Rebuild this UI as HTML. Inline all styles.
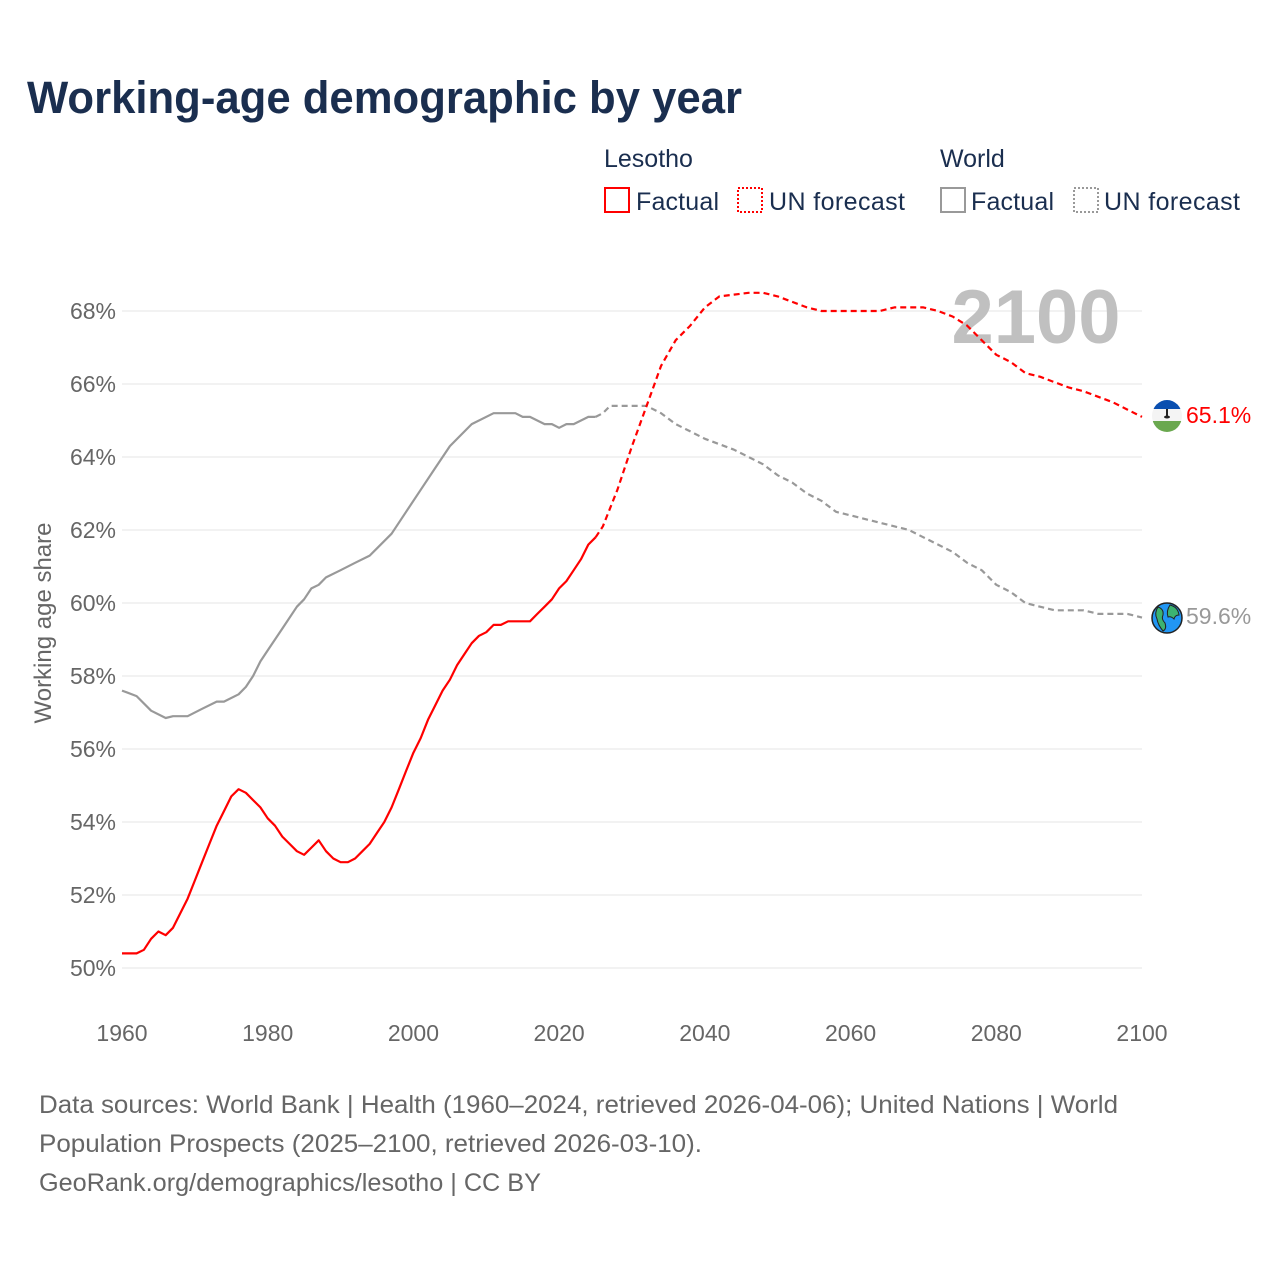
<!DOCTYPE html>
<html><head><meta charset="utf-8"><style>
body{margin:0;background:#fff;font-family:"Liberation Sans",sans-serif;}
svg text{font-family:"Liberation Sans",sans-serif;}
</style></head><body>
<svg width="1280" height="1280" viewBox="0 0 1280 1280" xmlns="http://www.w3.org/2000/svg">
<rect width="1280" height="1280" fill="#fff"/>
<text x="27" y="113" font-size="45" font-weight="bold" fill="#1a2e4f" textLength="715" lengthAdjust="spacingAndGlyphs">Working-age demographic by year</text>
<g font-size="25" fill="#1a2e4f">
<text x="604" y="167" fill="#1a2e4f">Lesotho</text>
<text x="940" y="167" fill="#1a2e4f">World</text>
<rect x="605" y="188" width="24" height="24" fill="none" stroke="#ff0000" stroke-width="2"/>
<text x="636" y="210" fill="#1a2e4f" textLength="83">Factual</text>
<rect x="738" y="188" width="24" height="24" fill="none" stroke="#ff0000" stroke-width="2" stroke-dasharray="2,2"/>
<text x="769" y="210" fill="#1a2e4f" textLength="136">UN forecast</text>
<rect x="941" y="188" width="24" height="24" fill="none" stroke="#999" stroke-width="2"/>
<text x="971" y="210" fill="#1a2e4f" textLength="83">Factual</text>
<rect x="1074" y="188" width="24" height="24" fill="none" stroke="#999" stroke-width="2" stroke-dasharray="2,2"/>
<text x="1104" y="210" fill="#1a2e4f" textLength="136">UN forecast</text>
</g>
<g id="grid"></g>
<text x="1036" y="343" font-size="76" font-weight="bold" fill="#c0c0c0" text-anchor="middle">2100</text>
<g id="series"></g>
<text transform="translate(51,623) rotate(-90)" font-size="24" fill="#666" text-anchor="middle">Working age share</text>
<g>
<clipPath id="cf"><ellipse cx="1167" cy="416" rx="15" ry="16"/></clipPath>
<g clip-path="url(#cf)"><rect x="1150" y="398" width="34" height="11" fill="#0a4fb0"/><rect x="1150" y="409" width="34" height="12" fill="#f4f4f4"/><rect x="1150" y="421" width="34" height="14" fill="#6aa84f"/></g>
<rect x="1166" y="409" width="2" height="7" fill="#222"/><ellipse cx="1167" cy="417" rx="3" ry="1.5" fill="#222"/>
</g>
<g>
<circle cx="1167" cy="618" r="15" fill="#2196f3" stroke="#222" stroke-width="1.5"/>
<path d="M1158 607 q6 2 5 8 q-2 4 2 8 q2 6 -2 8 q-5-6-6-12 q-3-6 1-12z M1170 605 q8 2 9 10 q-4 0-5 4 q-3-3-6-2 q-2-6 2-12z" fill="#3cb371" stroke="#222" stroke-width="1"/>
</g>
<text x="1186" y="423" font-size="23" fill="#ff0000">65.1%</text>
<text x="1186" y="624" font-size="23" fill="#999">59.6%</text>
<g font-size="25" fill="#666">
<text x="39" y="1113" textLength="1079" lengthAdjust="spacingAndGlyphs">Data sources: World Bank | Health (1960–2024, retrieved 2026-04-06); United Nations | World</text>
<text x="39" y="1152" textLength="663" lengthAdjust="spacingAndGlyphs">Population Prospects (2025–2100, retrieved 2026-03-10).</text>
<text x="39" y="1191" textLength="502" lengthAdjust="spacingAndGlyphs">GeoRank.org/demographics/lesotho | CC BY</text>
</g>
</svg>
<script>
const yTicks=[50,52,54,56,58,60,62,64,66,68];
const xTicks=[1960,1980,2000,2020,2040,2060,2080,2100];
const lesYears=[1960,1961,1962,1963,1964,1965,1966,1967,1968,1969,1970,1971,1972,1973,1974,1975,1976,1977,1978,1979,1980,1981,1982,1983,1984,1985,1986,1987,1988,1989,1990,1991,1992,1993,1994,1995,1996,1997,1998,1999,2000,2001,2002,2003,2004,2005,2006,2007,2008,2009,2010,2011,2012,2013,2014,2015,2016,2017,2018,2019,2020,2021,2022,2023,2024,2025];
const lesVals=[50.4,50.4,50.4,50.5,50.8,51.0,50.9,51.1,51.5,51.9,52.4,52.9,53.4,53.9,54.3,54.7,54.9,54.8,54.6,54.4,54.1,53.9,53.6,53.4,53.2,53.1,53.3,53.5,53.2,53.0,52.9,52.9,53.0,53.2,53.4,53.7,54.0,54.4,54.9,55.4,55.9,56.3,56.8,57.2,57.6,57.9,58.3,58.6,58.9,59.1,59.2,59.4,59.4,59.5,59.5,59.5,59.5,59.7,59.9,60.1,60.4,60.6,60.9,61.2,61.6,61.8];
const lesFcYears=[2025,2026,2028,2030,2032,2034,2036,2038,2040,2042,2044,2046,2048,2050,2052,2054,2056,2060,2064,2066,2070,2072,2074,2076,2078,2080,2082,2084,2086,2088,2090,2092,2094,2096,2098,2100];
const lesFcVals=[61.8,62.1,63.1,64.3,65.4,66.5,67.2,67.6,68.1,68.4,68.45,68.5,68.5,68.4,68.25,68.1,68.0,68.0,68.0,68.1,68.1,68.0,67.85,67.6,67.2,66.8,66.6,66.3,66.2,66.05,65.9,65.8,65.65,65.5,65.3,65.1];
const wYears=[1960,1962,1964,1966,1967,1969,1971,1973,1974,1976,1977,1978,1979,1980,1982,1984,1985,1986,1987,1988,1990,1992,1994,1995,1997,1999,2001,2003,2005,2008,2011,2014,2015,2016,2018,2019,2020,2021,2022,2024,2025];
const wVals=[57.6,57.45,57.05,56.85,56.9,56.9,57.1,57.3,57.3,57.5,57.7,58.0,58.4,58.7,59.3,59.9,60.1,60.4,60.5,60.7,60.9,61.1,61.3,61.5,61.9,62.5,63.1,63.7,64.3,64.9,65.2,65.2,65.1,65.1,64.9,64.9,64.8,64.9,64.9,65.1,65.1];
const wFcYears=[2025,2026,2027,2032,2034,2036,2038,2040,2044,2046,2048,2050,2052,2054,2056,2058,2060,2064,2066,2068,2070,2074,2076,2078,2080,2082,2084,2086,2088,2092,2094,2098,2100];
const wFcVals=[65.1,65.2,65.4,65.4,65.2,64.9,64.7,64.5,64.2,64.0,63.8,63.5,63.3,63.0,62.8,62.5,62.4,62.2,62.1,62.0,61.8,61.4,61.1,60.9,60.5,60.3,60.0,59.9,59.8,59.8,59.7,59.7,59.6];
const NS='http://www.w3.org/2000/svg';
function xS(y){return 122+(y-1960)*(1020/140);}
function yS(v){return 968-(v-50)*36.5;}
const grid=document.getElementById('grid');
yTicks.forEach(t=>{
 const l=document.createElementNS(NS,'line');
 l.setAttribute('x1',122);l.setAttribute('x2',1142);l.setAttribute('y1',yS(t));l.setAttribute('y2',yS(t));
 l.setAttribute('stroke','#e6e6e6');l.setAttribute('stroke-width','1');
 
 
 grid.appendChild(l);
 const tx=document.createElementNS(NS,'text');
 tx.setAttribute('x',116);tx.setAttribute('y',yS(t)+8);tx.setAttribute('text-anchor','end');
 tx.setAttribute('font-size','23');tx.setAttribute('fill','#666');tx.textContent=t+'%';
 
 
 grid.appendChild(tx);
});
xTicks.forEach(t=>{
 const tx=document.createElementNS(NS,'text');
 tx.setAttribute('x',xS(t));tx.setAttribute('y',1041);tx.setAttribute('text-anchor','middle');
 tx.setAttribute('font-size','23');tx.setAttribute('fill','#666');tx.textContent=t;
 
 
 grid.appendChild(tx);
});
const ser=document.getElementById('series');
function line(xs,vs,color,dash,name){
 const p=document.createElementNS(NS,'path');
 p.setAttribute('d',xs.map((x,i)=>(i?'L':'M')+xS(x).toFixed(1)+' '+yS(vs[i]).toFixed(1)).join(' '));
 p.setAttribute('fill','none');p.setAttribute('stroke',color);p.setAttribute('stroke-width','2.2');
 p.setAttribute('stroke-linejoin','round');
 if(dash)p.setAttribute('stroke-dasharray','6,4');
 
 
 ser.appendChild(p);
}
line(wYears,wVals,'#999',false,'world-factual-line');
line(wFcYears,wFcVals,'#999',true,'world-forecast-line');
line(lesYears,lesVals,'#ff0000',false,'lesotho-factual-line');
line(lesFcYears,lesFcVals,'#ff0000',true,'lesotho-forecast-line');
</script>
</body></html>
